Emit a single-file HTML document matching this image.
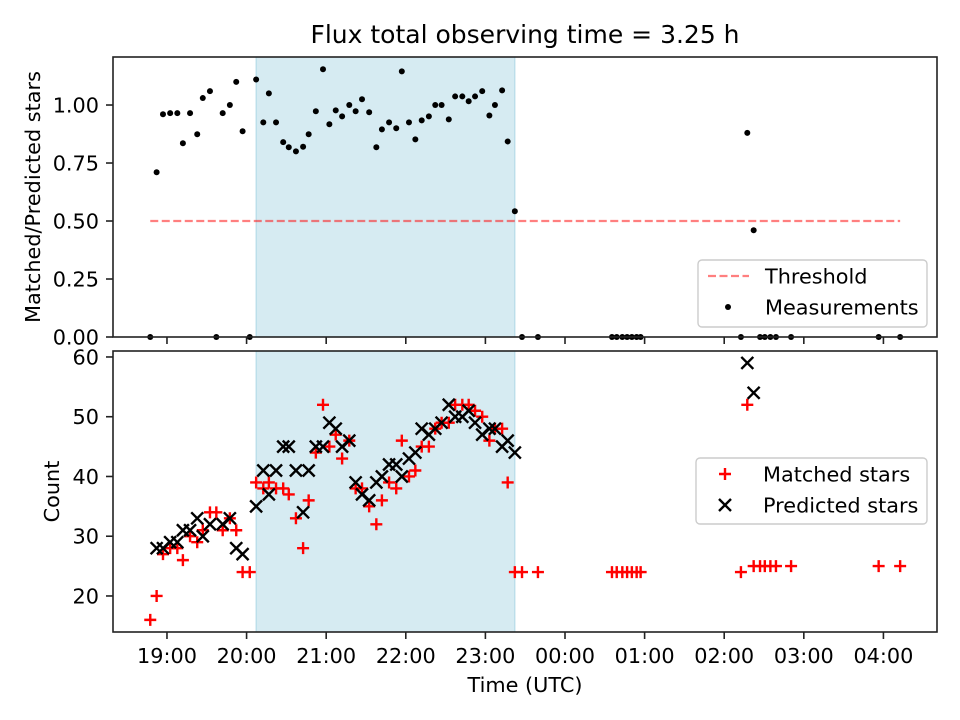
<!DOCTYPE html>
<html><head><meta charset="utf-8"><style>
html,body{margin:0;padding:0;background:#fff;}
svg{display:block;font-family:"DejaVu Sans","Liberation Sans",sans-serif;}
</style></head><body>
<svg id="chart" width="960" height="720" xmlns="http://www.w3.org/2000/svg"></svg>
<script>
const times = [18.79,18.87,18.95,19.04,19.13,19.20,19.29,19.38,19.45,19.54,19.62,19.70,19.79,19.87,19.95,20.04,20.12,20.21,20.28,20.37,20.46,20.53,20.62,20.71,20.78,20.87,20.96,21.04,21.12,21.20,21.29,21.37,21.45,21.54,21.63,21.70,21.79,21.88,21.95,22.04,22.12,22.20,22.29,22.37,22.45,22.54,22.62,22.71,22.79,22.87,22.96,23.05,23.12,23.21,23.28,23.37,23.46,23.66,24.59,24.65,24.72,24.78,24.84,24.90,24.95,26.21,26.29,26.37,26.45,26.51,26.58,26.65,26.84,27.94,28.21];
const ratio = [0,0.71,0.96,0.965,0.965,0.835,0.965,0.874,1.03,1.06,0,0.965,1.0,1.10,0.887,0,1.11,0.925,1.05,0.925,0.84,0.818,0.80,0.82,0.874,0.973,1.154,0.917,0.977,0.951,1.0,0.973,1.025,0.969,0.818,0.895,0.925,0.9,1.145,0.925,0.852,0.934,0.951,1.0,1.0,0.938,1.037,1.037,1.016,1.037,1.06,0.955,1.0,1.063,0.843,0.542,0,0,0,0,0,0,0,0,0,0,0.88,0.46,0,0,0,0,0,0,0];
const matched = [16,20,27,28,28,26,30,29,31,34,34,31,33,31,24,24,39,38,39,38,38,37,33,28,36,44,52,45,47,43,46,38,38,35,32,36,39,38,46,40,41,45,45,48,49,49,52,52,52,51,50,46,48,48,39,24,24,24,24,24,24,24,24,24,24,24,52,25,25,25,25,25,25,25,25];
const predicted = [null,28,28,29,29,31,31,33,30,32,null,32,33,28,27,null,35,41,37,41,45,45,41,34,41,45,45,49,48,45,46,39,37,36,39,40,42,42,40,43,44,48,47,48,49,52,50,50,51,49,47,48,48,45,46,44,null,null,null,null,null,null,null,null,null,null,59,54,null,null,null,null,null,null,null];
const threshold = 0.5;
const shadeSpan = [20.12, 23.37];
const xTickLabels = ["19:00","20:00","21:00","22:00","23:00","00:00","01:00","02:00","03:00","04:00"];
const xTickHours = [19,20,21,22,23,24,25,26,27,28];
const topTicks = [0,0.25,0.5,0.75,1.0];
const botTicks = [20,30,40,50,60];

const NS="http://www.w3.org/2000/svg";
const svg=document.getElementById('chart');
function mk(tag,attrs,parent){const e=document.createElementNS(NS,tag);for(const k in attrs)e.setAttribute(k,attrs[k]);(parent||svg).appendChild(e);return e;}
const L=113,R=937;
const xMin=18.322,xMax=28.673;
const X=h=>L+(h-xMin)/(xMax-xMin)*(R-L);
const T1=57,B1=337,yT=v=>B1-(v-0)/(1.207-0)*(B1-T1);
const T2=351,B2=632,yB=v=>B2-(v-13.97)/(61.0-13.97)*(B2-T2);
const FS='20.8';

let t=mk('text',{x:525,y:43,'text-anchor':'middle','font-size':'25'});t.textContent='Flux total observing time = 3.25 h';



function panel(top,bot,name){
  const r=mk('rect',{x:X(shadeSpan[0]),y:top,width:X(shadeSpan[1])-X(shadeSpan[0]),height:bot-top,fill:'#add8e6','fill-opacity':0.5,stroke:'#add8e6'});
  
  
}
panel(T1,B1,'top');panel(T2,B2,'bottom');

const th=mk('line',{x1:X(times[0]),x2:X(times[times.length-1]),y1:yT(threshold),y2:yT(threshold),stroke:'#ff0000','stroke-opacity':0.5,'stroke-width':2.2,'stroke-dasharray':'8,3.5'});



ratio.forEach((v,i)=>{
  const c=mk('circle',{cx:X(times[i]),cy:yT(v),r:3,fill:'#000'});
  
  
});

matched.forEach((v,i)=>{
  const x=X(times[i]),y=yB(v);
  const p=mk('path',{d:`M${x-6},${y}h12M${x},${y-6}v12`,stroke:'#ff0000','stroke-width':2.4});
  
  
});
predicted.forEach((v,i)=>{
  if(v===null)return;
  const x=X(times[i]),y=yB(v);
  const p=mk('path',{d:`M${x-6},${y-6}l12,12M${x-6},${y+6}l12,-12`,stroke:'#000','stroke-width':2.4});
  
  
});

[[T1,B1,'top-axes-frame'],[T2,B2,'bottom-axes-frame']].forEach(([a,b,n])=>{
  const r=mk('rect',{x:L,y:a,width:R-L,height:b-a,fill:'none',stroke:'#222','stroke-width':1.6});
  
  
});

xTickHours.forEach((h,i)=>{
  mk('line',{x1:X(h),x2:X(h),y1:B1,y2:B1+7,stroke:'#222','stroke-width':1.6});
  mk('line',{x1:X(h),x2:X(h),y1:B2,y2:B2+7,stroke:'#222','stroke-width':1.6});
  const tx=mk('text',{x:X(h),y:663,'text-anchor':'middle','font-size':FS});tx.textContent=xTickLabels[i];
  
  
});
topTicks.forEach(v=>{
  mk('line',{x1:L-7,x2:L,y1:yT(v),y2:yT(v),stroke:'#222','stroke-width':1.6});
  const tx=mk('text',{x:L-14,y:yT(v)+7.5,'text-anchor':'end','font-size':FS});tx.textContent=v.toFixed(2);
  
  
});
botTicks.forEach(v=>{
  mk('line',{x1:L-7,x2:L,y1:yB(v),y2:yB(v),stroke:'#222','stroke-width':1.6});
  const tx=mk('text',{x:L-14,y:yB(v)+7.5,'text-anchor':'end','font-size':FS});tx.textContent=v;
  
  
});

let a=mk('text',{x:525,y:692,'text-anchor':'middle','font-size':FS});a.textContent='Time (UTC)';

a=mk('text',{x:0,y:0,'text-anchor':'middle','font-size':FS,transform:`translate(40,${(T1+B1)/2}) rotate(-90)`});a.textContent='Matched/Predicted stars';

a=mk('text',{x:0,y:0,'text-anchor':'middle','font-size':FS,transform:`translate(59,${(T2+B2)/2}) rotate(-90)`});a.textContent='Count';


function legend(x,y,w,h,name,mx,tx0,items){
  const g=mk('g',{});
  
  
  mk('rect',{x,y,width:w,height:h,rx:4,fill:'#fff','fill-opacity':0.8,stroke:'#ccc','stroke-width':1.4},g);
  items.forEach((it,i)=>{
    const cy=y+16+i*31;
    it.draw(g,mx,cy);
    const tx=mk('text',{x:tx0,y:cy+7.5,'font-size':FS},g);tx.textContent=it.label;
    
    
  });
}
legend(698,260,229,67,'top-legend',728,765,[
  {label:'Threshold',draw:(g,x,y)=>mk('line',{x1:x-20,x2:x+21,y1:y,y2:y,stroke:'#ff0000','stroke-opacity':0.5,'stroke-width':2.2,'stroke-dasharray':'8,3.5'},g)},
  {label:'Measurements',draw:(g,x,y)=>mk('circle',{cx:x,cy:y,r:3,fill:'#000'},g)}
]);
legend(696,458,231,66,'bottom-legend',725,763,[
  {label:'Matched stars',draw:(g,x,y)=>mk('path',{d:`M${x-6},${y}h12M${x},${y-6}v12`,stroke:'#ff0000','stroke-width':2.4},g)},
  {label:'Predicted stars',draw:(g,x,y)=>mk('path',{d:`M${x-6},${y-6}l12,12M${x-6},${y+6}l12,-12`,stroke:'#000','stroke-width':2.4},g)}
]);
</script>
</body></html>
